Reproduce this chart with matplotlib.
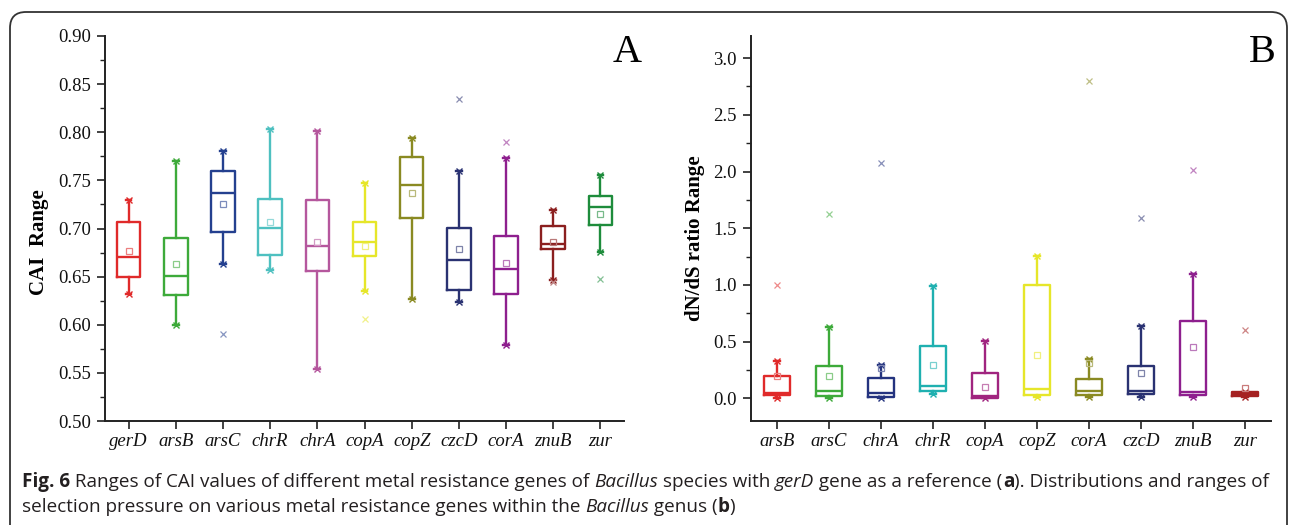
import matplotlib
matplotlib.use("Agg")
import matplotlib.pyplot as plt
from matplotlib.patches import FancyBboxPatch
from matplotlib.ticker import MultipleLocator
from matplotlib.colors import to_rgba

SERIF = ['Liberation Serif', 'DejaVu Serif']
plt.rcParams['font.family'] = SERIF

# ---------------- Panel A: CAI values ----------------
genes_a = ['gerD', 'arsB', 'arsC', 'chrR', 'chrA', 'copA', 'copZ', 'czcD', 'corA', 'znuB', 'zur']
a_whislo = [0.632, 0.600, 0.663, 0.657, 0.554, 0.635, 0.627, 0.624, 0.579, 0.647, 0.676]
a_q1     = [0.650, 0.631, 0.696, 0.672, 0.656, 0.671, 0.711, 0.636, 0.632, 0.679, 0.704]
a_med    = [0.670, 0.651, 0.737, 0.701, 0.682, 0.686, 0.745, 0.667, 0.658, 0.684, 0.722]
a_q3     = [0.707, 0.690, 0.760, 0.731, 0.730, 0.707, 0.774, 0.701, 0.692, 0.703, 0.734]
a_whishi = [0.730, 0.770, 0.781, 0.803, 0.801, 0.747, 0.794, 0.760, 0.773, 0.719, 0.756]
a_mean   = [0.677, 0.663, 0.725, 0.707, 0.686, 0.682, 0.737, 0.679, 0.664, 0.686, 0.715]
a_fliers = [[], [], [0.590], [], [], [0.606], [], [0.835], [0.790], [0.644], [0.648]]
a_yticks = [0.50, 0.55, 0.60, 0.65, 0.70, 0.75, 0.80, 0.85, 0.90]
colors_a = ['#E02A2A', '#3DAA3A', '#24408F', '#4EC0C0', '#B5579D', '#E6E62A',
            '#8A8A22', '#2A3272', '#8E1F8E', '#8B1F1F', '#1E8C3C']

# ---------------- Panel B: dN/dS ratio ----------------
genes_b = ['arsB', 'arsC', 'chrA', 'chrR', 'copA', 'copZ', 'corA', 'czcD', 'znuB', 'zur']
b_whislo = [0.000, 0.005, 0.000, 0.035, 0.000, 0.010, 0.010, 0.010, 0.010, 0.012]
b_q1     = [0.032, 0.020, 0.009, 0.062, 0.003, 0.030, 0.032, 0.038, 0.032, 0.020]
b_med    = [0.047, 0.068, 0.044, 0.106, 0.020, 0.079, 0.068, 0.068, 0.059, 0.038]
b_q3     = [0.194, 0.288, 0.182, 0.465, 0.226, 0.997, 0.168, 0.285, 0.685, 0.056]
b_whishi = [0.326, 0.632, 0.297, 0.991, 0.503, 1.256, 0.344, 0.635, 1.097, 0.056]
b_mean   = [0.194, 0.200, 0.268, 0.297, 0.103, 0.382, 0.312, 0.224, 0.453, 0.088]
b_fliers = [[1.0], [1.624], [2.074], [], [], [], [2.797], [1.594], [2.015], [0.603]]
b_yticks = [0.0, 0.5, 1.0, 1.5, 2.0, 2.5, 3.0]
colors_b = ['#E02A2A', '#3DAA3A', '#24337F', '#1FB0B0', '#A0247F', '#E6E62A',
            '#8A8A22', '#2A3272', '#8E1F8E', '#A52222']

W, H = 1290, 525
fig = plt.figure(figsize=(W / 100, H / 100), dpi=100)


def faded(c, a=0.55):
    r, g, b, _ = to_rgba(c)
    return (r + (1 - r) * (1 - a), g + (1 - g) * (1 - a), b + (1 - b) * (1 - a), 1)


def draw_panel(ax, genes, whislo, q1, med, q3, whishi, mean, fliers, colors, yticks, fmt):
    for i, g in enumerate(genes):
        st = dict(med=med[i], q1=q1[i], q3=q3[i], whislo=whislo[i],
                  whishi=whishi[i], mean=mean[i], fliers=[])
        c = colors[i]
        ax.bxp([st], positions=[i], widths=0.5, showmeans=True, showfliers=False,
               capwidths=0.12,
               boxprops=dict(color=c, linewidth=1.7),
               medianprops=dict(color=c, linewidth=1.7),
               whiskerprops=dict(color=c, linewidth=1.7),
               capprops=dict(color=c, linewidth=1.7),
               meanprops=dict(marker='s', markersize=4.5, markerfacecolor='none',
                              markeredgecolor=faded(c, 0.6), markeredgewidth=0.9))
        ax.plot([i, i], [whislo[i], whishi[i]], linestyle='none', marker='x',
                markersize=4, markeredgewidth=1.0, color=c)
        if fliers[i]:
            ax.plot([i] * len(fliers[i]), fliers[i], linestyle='none', marker='x',
                    markersize=4.5, markeredgewidth=0.9, color=faded(c, 0.55))
    ax.set_xlim(-0.5, len(genes) - 0.5)
    ax.set_xticks(range(len(genes)))
    ax.set_xticklabels(genes, fontdict=dict(family=SERIF, style='italic', size=13.5))
    ax.set_yticks(yticks)
    ax.set_yticklabels([fmt.format(v) for v in yticks], fontdict=dict(family=SERIF, size=13.5))
    for s in ['top', 'right']:
        ax.spines[s].set_visible(False)
    for s in ['left', 'bottom']:
        ax.spines[s].set_linewidth(1.4)
        ax.spines[s].set_color('#222222')
    ax.tick_params(axis='y', which='major', length=6, width=1.2,
                   pad=4, color='#222222', labelcolor='#111111')
    ax.tick_params(axis='y', which='minor', length=3.5, width=1.0, color='#222222')
    ax.tick_params(axis='x', which='major', length=6, width=1.2, pad=3,
                   color='#222222', labelcolor='#111111')
    ax.tick_params(axis='x', which='minor', bottom=False)


# Panel A
axA = fig.add_axes([105 / W, 1 - 421 / H, (624 - 105) / W, (421 - 36) / H])
draw_panel(axA, genes_a, a_whislo, a_q1, a_med, a_q3, a_whishi, a_mean, a_fliers,
           colors_a, a_yticks, '{:.2f}')
axA.set_ylim(0.50, 0.90)
axA.yaxis.set_minor_locator(MultipleLocator(0.025))
axA.set_ylabel('CAI  Range', fontsize=15, fontweight='bold', family=SERIF)
axA.yaxis.set_label_coords(-0.108, 0.465)
fig.text(627 / W, 1 - 53 / H, 'A', fontsize=29, ha='center', va='center', family=SERIF)

# Panel B
axB = fig.add_axes([750.7 / W, 1 - 421 / H, (1271 - 750.7) / W, (421 - 36) / H])
draw_panel(axB, genes_b, b_whislo, b_q1, b_med, b_q3, b_whishi, b_mean, b_fliers,
           colors_b, b_yticks, '{:.1f}')
axB.set_ylim(-0.2, 3.195)
axB.yaxis.set_minor_locator(MultipleLocator(0.25))
axB.set_ylabel('dN/dS ratio Range', fontsize=15, fontweight='bold', family=SERIF)
axB.yaxis.set_label_coords(-0.087, 0.475)
fig.text(1262 / W, 1 - 53 / H, 'B', fontsize=29, ha='center', va='center', family=SERIF)

# Caption, built from styled segments
renderer = fig.canvas.get_renderer()
CAP_SIZE = 13.55
CAP_FONT = 'Open Sans'


def rich_line(x_px, y_px, segments):
    x = x_px
    for txt, weight, style in segments:
        t = fig.text(x / W, 1 - y_px / H, txt, fontsize=CAP_SIZE, family=CAP_FONT,
                     fontweight=weight, fontstyle=style, color='#231F20',
                     ha='left', va='baseline')
        x += t.get_window_extent(renderer).width


rich_line(22, 487, [
    ('Fig. 6', 'bold', 'normal'),
    (' Ranges of CAI values of different metal resistance genes of ', 'normal', 'normal'),
    ('Bacillus', 'normal', 'italic'),
    (' species with ', 'normal', 'normal'),
    ('gerD', 'normal', 'italic'),
    (' gene as a reference (', 'normal', 'normal'),
    ('a', 'bold', 'normal'),
    ('). Distributions and ranges of', 'normal', 'normal'),
])
rich_line(22, 512, [
    ('selection pressure on various metal resistance genes within the ', 'normal', 'normal'),
    ('Bacillus', 'normal', 'italic'),
    (' genus (', 'normal', 'normal'),
    ('b', 'bold', 'normal'),
    (')', 'normal', 'normal'),
])

# Rounded frame
frame = FancyBboxPatch((10, -40), 1277, (H - 12) + 40,
                       boxstyle='round,pad=0,rounding_size=16',
                       transform=None, fill=False, edgecolor='#333333', linewidth=1.3)
fig.patches.append(frame)

fig.savefig('out.png', dpi=100)
